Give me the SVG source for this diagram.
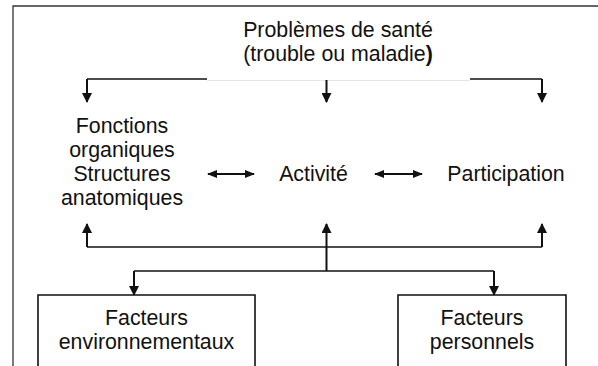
<svg xmlns="http://www.w3.org/2000/svg" width="598" height="366" viewBox="0 0 598 366">
<defs>
<style>
text{font-family:"Liberation Sans",Arial,sans-serif;font-size:21.33px;fill:#111;text-anchor:middle}
.ln{stroke:#111;stroke-width:1.4;fill:none}
.st{stroke:#111;stroke-width:2;fill:none}
.faint{stroke:#e6e6e6;stroke-width:1.2;fill:none}
.box{stroke:#111;stroke-width:1.6;fill:#fff}
.frame{stroke:#333;stroke-width:1.3;fill:none}
</style>
<marker id="ah" viewBox="0 0 10 10" refX="9" refY="5" markerWidth="10" markerHeight="10" markerUnits="userSpaceOnUse" orient="auto-start-reverse">
<path d="M0,0 L10,5 L0,10 Z" fill="#111"/>
</marker>
<marker id="ahs" viewBox="0 0 10 8" refX="9" refY="4" markerWidth="10" markerHeight="8" markerUnits="userSpaceOnUse" orient="auto-start-reverse">
<path d="M0,0 L10,4 L0,8 Z" fill="#111"/>
</marker>
</defs>
<rect width="598" height="366" fill="#fff"/>
<path class="frame" d="M13,366 V6 H598"/>
<g id="connectors">
<path class="ln" d="M87,79 H207"/>
<path class="faint" d="M207,80.5 H470"/>
<path class="ln" d="M470,79 H542"/>
<path class="st" d="M87,79 V102" marker-end="url(#ah)"/>
<path class="st" d="M326.5,80 V102" marker-end="url(#ah)"/>
<path class="st" d="M542,79 V102" marker-end="url(#ah)"/>
<path class="st" d="M208,174 H254" marker-start="url(#ahs)" marker-end="url(#ahs)"/>
<path class="st" d="M375,174 H422" marker-start="url(#ahs)" marker-end="url(#ahs)"/>
<path class="ln" d="M87,247 H542"/>
<path class="st" d="M87,247 V224" marker-end="url(#ah)"/>
<path class="st" d="M542,247 V224" marker-end="url(#ah)"/>
<path class="st" d="M326.5,271 V224" marker-end="url(#ah)"/>
<path class="ln" d="M134,271 H494"/>
<path class="st" d="M134,271 V295" marker-end="url(#ah)"/>
<path class="st" d="M494,271 V295" marker-end="url(#ah)"/>
</g>
<g id="probleme">
<text x="338" y="37">Problèmes de santé</text>
<text x="338" y="61">(trouble ou maladie<tspan font-weight="bold">)</tspan></text>
</g>
<g id="fonctions">
<text x="122" y="133">Fonctions</text>
<text x="122" y="157">organiques</text>
<text x="122" y="181">Structures</text>
<text x="122" y="205">anatomiques</text>
</g>
<g id="activite">
<text x="313.5" y="181">Activité</text>
</g>
<g id="participation">
<text x="506" y="181">Participation</text>
</g>
<g id="env">
<path class="box" d="M38,367 V295 H255 V367"/>
<text x="146.5" y="325">Facteurs</text>
<text x="146.5" y="349">environnementaux</text>
</g>
<g id="perso">
<path class="box" d="M398,367 V295 H566 V367"/>
<text x="482" y="325">Facteurs</text>
<text x="482" y="349">personnels</text>
</g>
</svg>
